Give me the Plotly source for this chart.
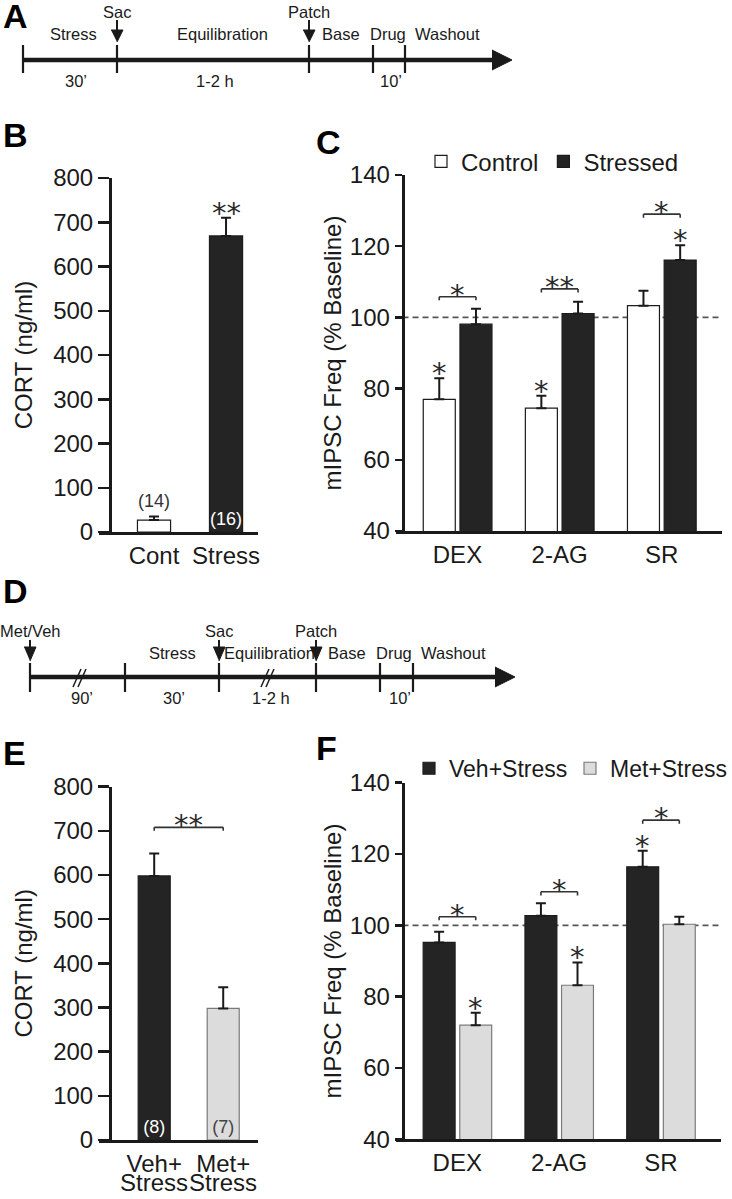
import plotly.graph_objects as go

W, H = 732, 1199


def fx(px):
    return px / W


def fy(py):
    return 1 - py / H


# ---------------- data ----------------
# Panel A timeline (schematic positions in drawing units)
a_ticks = [23, 117, 309, 373, 405]
a_end = 512
a_arrow_labels = ["Sac", "Patch"]
a_arrow_x = [117, 309]
a_phase_labels = ["Stress", "Equilibration", "Base", "Drug", "Washout"]
a_phase_x = [73, 222, 341, 388, 447]
a_dur_labels = ["30’", "1-2 h", "10’"]
a_dur_x = [76, 215, 391]

# Panel B
b_cats = ["Cont", "Stress"]
b_cort = [27, 669]
b_err = [8, 41]
b_n = ["(14)", "(16)"]
b_n_outside = [True, False]
b_sig = ["", "**"]

# Panel C
drugs = ["DEX", "2-AG", "SR"]
c_control = [77.0, 74.5, 103.3]
c_control_err = [5.9, 3.5, 4.2]
c_stressed = [98.1, 101.1, 116.1]
c_stressed_err = [4.3, 3.3, 4.2]
c_n_control = ["(5)", "(5)", "(6)"]
c_n_stressed = ["(5)", "(9)", "(7)"]
c_star_control = ["*", "*", ""]
c_star_stressed = ["", "", "*"]
c_pair_sig = ["*", "**", "*"]
c_pair_level = [105.8, 108.0, 129.0]

# Panel D timeline
d_ticks = [30, 125, 219, 316, 380, 413]
d_end = 515
d_arrow_labels = ["Met/Veh", "Sac", "Patch"]
d_arrow_x = [30, 219, 316]
d_phase_labels = ["Stress", "Equilibration", "Base", "Drug", "Washout"]
d_phase_x = [172, 269, 347, 394, 453]
d_dur_labels = ["90’", "30’", "1-2 h", "10’"]
d_dur_x = [82, 174, 271, 400]
d_breaks = [80, 268]

# Panel E
e_cats = ["Veh+ Stress", "Met+ Stress"]
e_cort = [598, 298]
e_err = [51, 48]
e_n = ["(8)", "(7)"]
e_pair_sig = "**"
e_pair_level = 708

# Panel F
f_veh = [95.2, 102.7, 116.4]
f_veh_err = [3.0, 3.5, 4.5]
f_met = [72.0, 83.2, 100.3]
f_met_err = [3.5, 6.4, 2.1]
f_n_veh = ["(6)", "(5)", "(7)"]
f_n_met = ["(7)", "(8)", "(5)"]
f_star_veh = ["", "", "*"]
f_star_met = ["*", "*", ""]
f_pair_sig = ["*", "*", "*"]
f_pair_level = [102.4, 109.4, 129.5]

# ---------------- styles ----------------
DARK = "#242424"
LIGHT = "#dcdcdc"
EDGE = "#1c1c1c"
LEDGE = "#7a7a7a"
INK = "#1a1a1a"
FONT = "Liberation Sans, Arial, sans-serif"
TLFONT = dict(family=FONT, size=16.5, color=INK)
STARFONT = "DejaVu Sans, sans-serif"
BW = 0.3135
OFF_L, OFF_R = -0.335, 0.0245
CEN_L, CEN_R = OFF_L + BW / 2, OFF_R + BW / 2

fig = go.Figure()
annotations = []
shapes = []


def err(arr):
    return dict(type="data", array=arr, arrayminus=[0] * len(arr), symmetric=False,
                color=INK, thickness=2, width=5)


def star(xref, yref, x, y, text, shift):
    if not text:
        return
    annotations.append(dict(xref=xref, yref=yref, x=x, y=y, text=text, showarrow=False,
                            yanchor="middle", yshift=shift,
                            font=dict(family=STARFONT, size=29, color="#2a2a2a")))


def bracket(xref, yref, x0, x1, y, drop):
    ln = dict(color="#333", width=1.6)
    shapes.append(dict(type="line", xref=xref, yref=yref, x0=x0, x1=x1, y0=y, y1=y, line=ln))
    shapes.append(dict(type="line", xref=xref, yref=yref, x0=x0, x1=x0, y0=y, y1=y - drop, line=ln))
    shapes.append(dict(type="line", xref=xref, yref=yref, x0=x1, x1=x1, y0=y, y1=y - drop, line=ln))


# ---- Panel B ----
fig.add_trace(go.Bar(
    x=b_cats, y=b_cort, xaxis="x", yaxis="y", width=0.46,
    marker=dict(color=["white", DARK], line=dict(color=EDGE, width=1.2)),
    error_y=err(b_err), text=["" if o else t for t, o in zip(b_n, b_n_outside)],
    textposition="inside", insidetextanchor="start", textangle=0, constraintext="none",
    textfont=dict(family=FONT, size=18, color="white"), showlegend=False))
for i, s in enumerate(b_sig):
    star("x", "y", i, b_cort[i] + b_err[i], s, 5)
    if b_n_outside[i]:
        annotations.append(dict(xref="x", yref="y", x=i, y=b_cort[i], text=b_n[i], showarrow=False,
                                yanchor="middle", yshift=19,
                                font=dict(family=FONT, size=18, color="#333")))

# ---- Panel C ----
fig.add_trace(go.Bar(
    name="Control", x=drugs, y=c_control, xaxis="x2", yaxis="y2", offset=OFF_L, width=BW,
    marker=dict(color="white", line=dict(color=EDGE, width=1.2)), error_y=err(c_control_err),
    text=c_n_control, textposition="inside", insidetextanchor="start", textangle=0,
    constraintext="none", textfont=dict(family=FONT, size=18, color="#333"), legend="legend"))
fig.add_trace(go.Bar(
    name="Stressed", x=drugs, y=c_stressed, xaxis="x2", yaxis="y2", offset=OFF_R, width=BW,
    marker=dict(color=DARK, line=dict(color=EDGE, width=1.2)), error_y=err(c_stressed_err),
    text=c_n_stressed, textposition="inside", insidetextanchor="start", textangle=0,
    constraintext="none", textfont=dict(family=FONT, size=18, color="white"), legend="legend"))
for i in range(len(drugs)):
    star("x2", "y2", i + CEN_L, c_control[i] + c_control_err[i], c_star_control[i], 5)
    star("x2", "y2", i + CEN_R, c_stressed[i] + c_stressed_err[i], c_star_stressed[i], 5)
    bracket("x2", "y2", i + CEN_L, i + CEN_R, c_pair_level[i], 1.0)
    star("x2", "y2", i + (CEN_L + CEN_R) / 2, c_pair_level[i], c_pair_sig[i], 2)
shapes.append(dict(type="line", xref="x2 domain", yref="y2", x0=0.02, x1=1, y0=100, y1=100,
                   layer="below", line=dict(color="#555", width=1.6, dash="6px,4px")))

# ---- Panel E ----
fig.add_trace(go.Bar(
    x=e_cats, y=e_cort, xaxis="x3", yaxis="y3", width=0.464,
    marker=dict(color=[DARK, LIGHT], line=dict(color=[EDGE, LEDGE], width=1.2)),
    error_y=err(e_err), text=e_n, textposition="inside", insidetextanchor="start",
    textangle=0, constraintext="none",
    textfont=dict(family=FONT, size=18, color=["white", "#444"]), showlegend=False))
bracket("x3", "y3", 0, 1, e_pair_level, 7.5)
star("x3", "y3", 0.5, e_pair_level, e_pair_sig, 2)
for i, c in enumerate(e_cats):
    annotations.append(dict(xref="x3", yref="paper", x=i, y=fy(1182), text=c.split(" ")[1],
                            showarrow=False, yanchor="middle",
                            font=dict(family=FONT, size=24, color=INK)))

# ---- Panel F ----
fig.add_trace(go.Bar(
    name="Veh+Stress", x=drugs, y=f_veh, xaxis="x4", yaxis="y4", offset=OFF_L, width=BW,
    marker=dict(color=DARK, line=dict(color=EDGE, width=1.2)), error_y=err(f_veh_err),
    text=f_n_veh, textposition="inside", insidetextanchor="start", textangle=0,
    constraintext="none", textfont=dict(family=FONT, size=18, color="white"), legend="legend2"))
fig.add_trace(go.Bar(
    name="Met+Stress", x=drugs, y=f_met, xaxis="x4", yaxis="y4", offset=OFF_R, width=BW,
    marker=dict(color=LIGHT, line=dict(color=LEDGE, width=1.2)), error_y=err(f_met_err),
    text=f_n_met, textposition="inside", insidetextanchor="start", textangle=0,
    constraintext="none", textfont=dict(family=FONT, size=18, color="#444"), legend="legend2"))
for i in range(len(drugs)):
    star("x4", "y4", i + CEN_L, f_veh[i] + f_veh_err[i], f_star_veh[i], 5)
    star("x4", "y4", i + CEN_R, f_met[i] + f_met_err[i], f_star_met[i], 5)
    bracket("x4", "y4", i + CEN_L, i + CEN_R, f_pair_level[i], 1.0)
    star("x4", "y4", i + (CEN_L + CEN_R) / 2, f_pair_level[i], f_pair_sig[i], 2)
shapes.append(dict(type="line", xref="x4 domain", yref="y4", x0=0.02, x1=1, y0=100, y1=100,
                   layer="below", line=dict(color="#555", width=1.6, dash="6px,4px")))


# ---- Timelines (A on x5/y5, D on x6/y6) ----
def timeline(xa, ya, y0, ticks, end, tick_h, arrow_x, arrow_labels, lab_y, phase_x, phase_labels,
             phase_y, dur_x, dur_labels, dur_y, arrow_top, tri_top, tri_bot, breaks=()):
    line = dict(color=INK, width=4.5)
    fig.add_trace(go.Scatter(x=[ticks[0], end - 18], y=[y0, y0], mode="lines", line=line,
                             xaxis=xa, yaxis=ya, showlegend=False, hoverinfo="skip"))
    fig.add_trace(go.Scatter(x=[end - 20, end, end - 20], y=[y0 - 10, y0, y0 + 10], fill="toself",
                             mode="lines", line=dict(color=INK, width=1), fillcolor=INK,
                             xaxis=xa, yaxis=ya, showlegend=False, hoverinfo="skip"))
    tx, ty = [], []
    for t in ticks:
        tx += [t, t, None]
        ty += [y0 - tick_h[0], y0 + tick_h[1], None]
    fig.add_trace(go.Scatter(x=tx, y=ty, mode="lines", line=dict(color=INK, width=2.2),
                             xaxis=xa, yaxis=ya, showlegend=False, hoverinfo="skip"))
    for xv, lab in zip(arrow_x, arrow_labels):
        fig.add_trace(go.Scatter(x=[xv, xv], y=[arrow_top, tri_top + 1], mode="lines",
                                 line=dict(color=INK, width=2), xaxis=xa, yaxis=ya,
                                 showlegend=False, hoverinfo="skip"))
        fig.add_trace(go.Scatter(x=[xv - 6, xv + 6, xv], y=[tri_top, tri_top, tri_bot], fill="toself",
                                 mode="lines", line=dict(color=INK, width=1), fillcolor=INK,
                                 xaxis=xa, yaxis=ya, showlegend=False, hoverinfo="skip"))
        annotations.append(dict(xref=xa, yref=ya, x=xv, y=lab_y, text=lab, showarrow=False,
                                yanchor="middle", font=TLFONT))
    for xv, lab in zip(phase_x, phase_labels):
        annotations.append(dict(xref=xa, yref=ya, x=xv, y=phase_y, text=lab, showarrow=False,
                                yanchor="middle", font=TLFONT))
    for xv, lab in zip(dur_x, dur_labels):
        annotations.append(dict(xref=xa, yref=ya, x=xv, y=dur_y, text=lab, showarrow=False,
                                yanchor="middle", font=TLFONT))
    for b in breaks:
        for dx in (-3, 2):
            fig.add_trace(go.Scatter(x=[b + dx - 4, b + dx + 4], y=[y0 + 10, y0 - 8], mode="lines",
                                     line=dict(color=INK, width=1.5), xaxis=xa, yaxis=ya,
                                     showlegend=False, hoverinfo="skip"))


timeline("x5", "y5", 60, a_ticks, a_end, (15, 13), a_arrow_x, a_arrow_labels, 12,
         a_phase_x, a_phase_labels, 34, a_dur_x, a_dur_labels, 81, 20, 30, 42)
timeline("x6", "y6", 677, d_ticks, d_end, (14, 15), d_arrow_x, d_arrow_labels, 631,
         d_phase_x, d_phase_labels, 653, d_dur_x, d_dur_labels, 698, 640, 647, 661,
         breaks=d_breaks)

# panel letters
for lab, px, py in [("A", 1, 16), ("B", 1, 135), ("C", 314, 142), ("D", 1, 591),
                    ("E", 1, 753), ("F", 314, 748)]:
    annotations.append(dict(xref="paper", yref="paper", x=fx(px), y=fy(py), text="<b>%s</b>" % lab,
                            showarrow=False, xanchor="left", yanchor="middle",
                            font=dict(family=FONT, size=34, color="#000")))

# ---------------- layout ----------------
tickfont = dict(family=FONT, size=24, color=INK)
titlefont = dict(family=FONT, size=24, color=INK)


def xcat(domain, anchor, rng, **kw):
    d = dict(domain=domain, anchor=anchor, type="category", range=rng, showline=True, linewidth=3,
             linecolor=INK, ticks="", showgrid=False, zeroline=False, tickfont=tickfont,
             fixedrange=True)
    d.update(kw)
    return d


def yval(domain, pos, rng, dtick, ticklen, title, standoff):
    return dict(domain=domain, anchor="free", position=pos, range=rng, dtick=dtick,
                showline=True, linewidth=3, linecolor=INK, ticks="outside", ticklen=ticklen,
                tickwidth=2.5, tickcolor=INK, showgrid=False, zeroline=False, tickfont=tickfont,
                title=dict(text=title, font=titlefont, standoff=standoff), fixedrange=True)


hidden = dict(visible=False, showgrid=False, zeroline=False, fixedrange=True)

fig.update_layout(
    width=W, height=H, margin=dict(l=0, r=0, t=0, b=0, autoexpand=False),
    paper_bgcolor="white", plot_bgcolor="rgba(0,0,0,0)", barmode="overlay",
    font=dict(family=FONT, color=INK), hovermode=False,
    xaxis=xcat([fx(99), fx(258)], "y", [-0.764, 1.444]),
    yaxis=yval([fy(532), fy(178)], fx(110), [0, 800], 100, 11, "CORT (ng/ml)", 12),
    xaxis2=xcat([fx(396), fx(722)], "y2", [-0.602, 2.591]),
    yaxis2=yval([fy(531), fy(175)], fx(402.7), [40, 140], 20, 7, "mIPSC Freq (% Baseline)", 0),
    xaxis3=xcat([fx(99), fx(258)], "y3", [-0.8, 1.504], tickvals=e_cats,
                ticktext=[c.split(" ")[0] for c in e_cats]),
    yaxis3=yval([fy(1140), fy(786.7)], fx(110), [0, 800], 100, 11, "CORT (ng/ml)", 12),
    xaxis4=xcat([fx(396), fx(721)], "y4", [-0.602, 2.591]),
    yaxis4=yval([fy(1139.3), fy(782.7)], fx(402.7), [40, 140], 20, 7, "mIPSC Freq (% Baseline)", 0),
    xaxis5=dict(hidden, domain=[0, 1], anchor="y5", range=[0, W]),
    yaxis5=dict(hidden, domain=[fy(100), 1], anchor="x5", range=[100, 0]),
    xaxis6=dict(hidden, domain=[0, 1], anchor="y6", range=[0, W]),
    yaxis6=dict(hidden, domain=[fy(715), fy(585)], anchor="x6", range=[715, 585]),
    legend=dict(orientation="h", x=fx(421), y=fy(161.7), xanchor="left", yanchor="middle",
                font=dict(family=FONT, size=24, color=INK), bgcolor="rgba(0,0,0,0)",
                itemwidth=30, traceorder="normal"),
    legend2=dict(orientation="h", x=fx(409), y=fy(768.3), xanchor="left", yanchor="middle",
                 font=dict(family=FONT, size=23, color=INK), bgcolor="rgba(0,0,0,0)",
                 itemwidth=30, traceorder="normal", entrywidth=116),
    annotations=annotations, shapes=shapes,
)

fig.write_html("out.html", config={"displayModeBar": False, "staticPlot": True},
               post_script="document.body.style.margin='0px';document.body.style.padding='0px';")
